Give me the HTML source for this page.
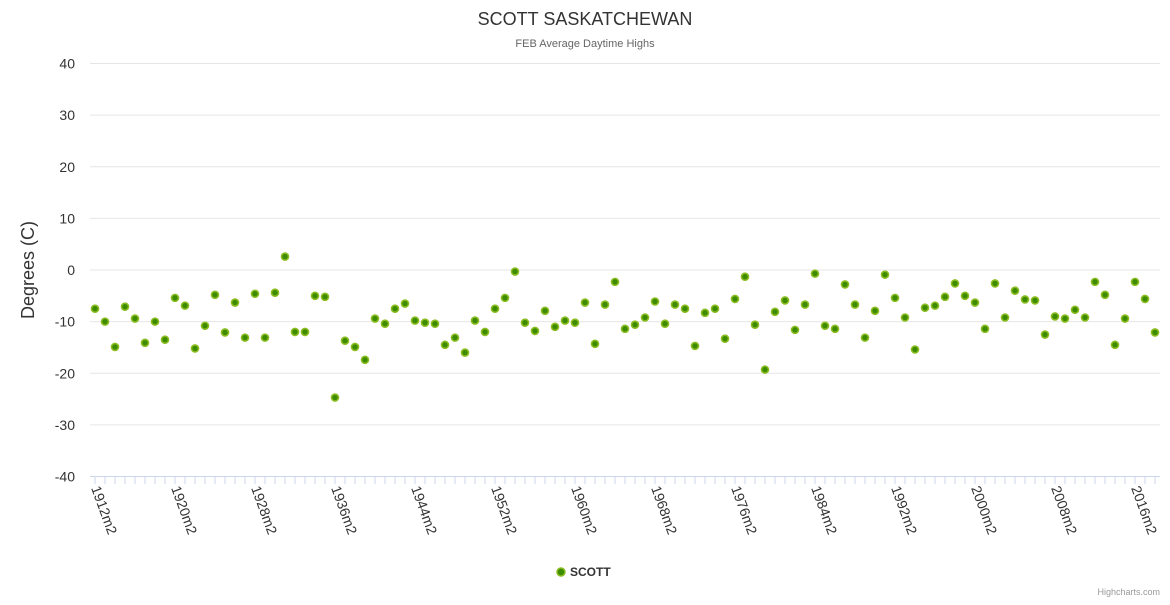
<!DOCTYPE html>
<html><head><meta charset="utf-8"><style>
body{margin:0;background:#fff;font-family:"Liberation Sans",sans-serif}
svg text{font-family:"Liberation Sans",sans-serif}
</style></head><body>
<svg id="c" width="1170" height="600">
<text x="585" y="25" text-anchor="middle" font-size="18" fill="#333">SCOTT SASKATCHEWAN</text>
<text x="585" y="47" text-anchor="middle" font-size="11" fill="#666">FEB Average Daytime Highs</text>
<text transform="translate(34,270) rotate(-90)" text-anchor="middle" font-size="18" fill="#333">Degrees (C)</text>
<g id="grid"></g><g id="xaxis"></g><g id="pts"></g>
<g>
<circle cx="561" cy="572" r="4" fill="#3d8c00" stroke="#8bbc21" stroke-width="1.5"/>
<text x="570" y="576" font-size="12" font-weight="bold" fill="#333">SCOTT</text></g>
<text x="1160" y="595" text-anchor="end" font-size="9" fill="#999">Highcharts.com</text>
</svg>
<script>
const startYear=1912;
const values=[-7.5,-10,-14.9,-7.1,-9.4,-14.1,-10,-13.5,-5.4,-6.9,-15.2,-10.8,-4.8,-12.1,-6.3,-13.1,-4.6,-13.1,-4.4,2.6,-12,-12,-5,-5.2,-24.7,-13.7,-14.9,-17.4,-9.4,-10.4,-7.5,-6.5,-9.8,-10.2,-10.4,-14.5,
-13.1,-16,-9.8,-12,-7.5,-5.4,-0.3,-10.2,-11.8,-7.9,-11,-9.8,-10.2,-6.3,-14.3,-6.7,-2.3,-11.4,-10.6,-9.2,-6.1,-10.4,-6.7,-7.5,-14.7,-8.3,-7.5,-13.3,-5.6,-1.3,-10.6,-19.3,-8.1,-5.9,-11.6,
-6.7,-0.7,-10.8,-11.4,-2.8,-6.7,-13.1,-7.9,-0.9,-5.4,-9.2,-15.4,-7.3,-6.9,-5.2,-2.6,-5,-6.3,-11.4,-2.6,-9.2,-4,-5.7,-5.9,-12.5,-9,-9.4,-7.7,-9.2,-2.3,-4.8,-14.5,-9.4,-2.3,-5.6,-12.1];
const yTicks=[40,30,20,10,0,-10,-20,-30,-40];
const xLabelYears=[1912,1920,1928,1936,1944,1952,1960,1968,1976,1984,1992,2000,2008,2016];
const NS='http://www.w3.org/2000/svg';
const y=v=>270-v*5.1625;
const x=yr=>95+(yr-startYear)*10;
function mk(t,a,p){const e=document.createElementNS(NS,t);for(const k in a)e.setAttribute(k,a[k]);p.appendChild(e);return e;}
const g=document.getElementById('grid'),xa=document.getElementById('xaxis'),pts=document.getElementById('pts');
yTicks.forEach(t=>{
 const l=mk('line',{x1:90,x2:1160,y1:y(t),y2:y(t),stroke:t===-40?'#ccd6eb':'#e6e6e6'},g);
 
 
 const tx=mk('text',{x:75,y:y(t)+5,'text-anchor':'end','font-size':14,fill:'#333'},g);
 tx.textContent=t;
 
 
});
for(let i=0;i<values.length;i++){
 const t=mk('line',{x1:x(startYear+i),x2:x(startYear+i),y1:476,y2:484,stroke:'#ccd6eb'},xa);
 
 
}
xLabelYears.forEach(yr=>{
 const tx=mk('text',{transform:`translate(${x(yr)-4},488) rotate(70)`,'font-size':14,fill:'#333'},xa);
 tx.textContent=yr+'m2';
 
 
});
values.forEach((v,i)=>{
 const c=mk('circle',{cx:x(startYear+i),cy:y(v),r:3.5,fill:'#3d8c00',stroke:'#8bbc21','stroke-width':1.6},pts);
 
 
});
</script>
</body></html>
